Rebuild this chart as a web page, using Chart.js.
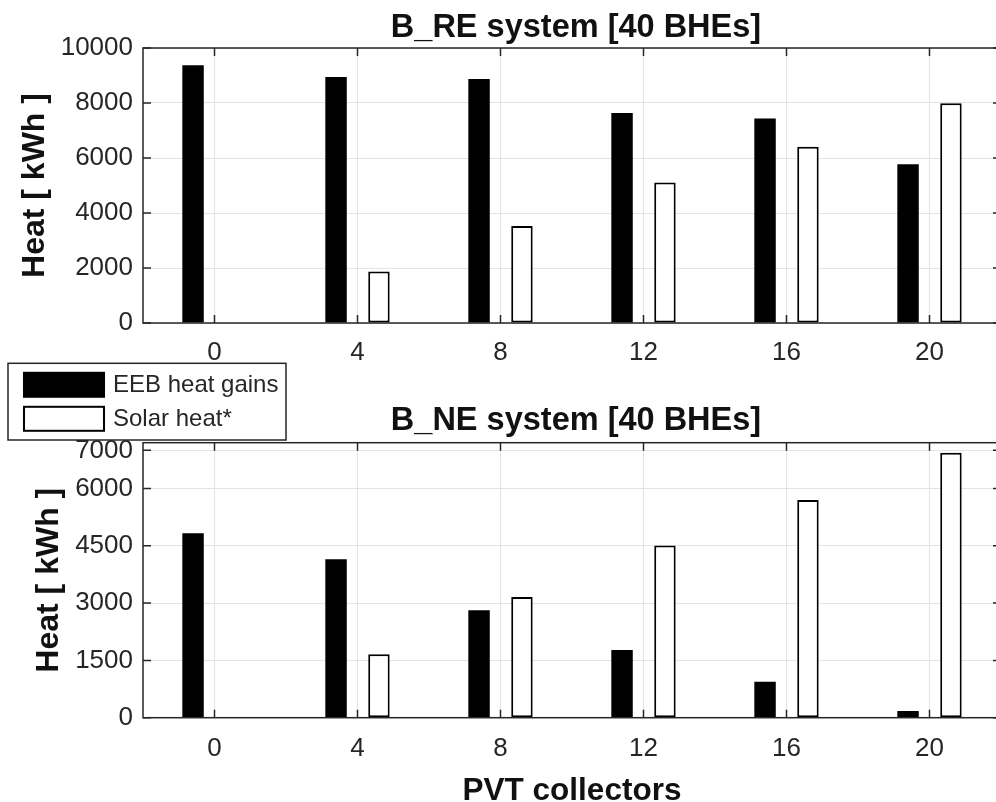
<!DOCTYPE html>
<html>
<head>
<meta charset="utf-8">
<script src="https://cdn.jsdelivr.net/npm/chart.js@4/dist/chart.umd.min.js"></script>
<style>
  html, body { margin: 0; padding: 0; background: #fff; width: 996px; height: 802px; overflow: hidden; position: relative; }
  canvas { position: absolute; left: 0; }
  #reChart { top: 0; }
  #neChart { top: 350px; }
</style>
</head>
<body>
<canvas id="reChart" width="1010" height="370"></canvas>
<canvas id="neChart" width="1010" height="470"></canvas>
<script>
// Number of PVT collectors (x categories)
const pvtCollectors = ['0', '4', '8', '12', '16', '20'];

// B_RE system [40 BHEs], heat in kWh
const reEebGains = [9370, 8950, 8870, 7640, 7440, 5770];
const reSolarHeat = [0, 1870, 3530, 5110, 6410, 7990];
const reTicks = [0, 2000, 4000, 6000, 8000, 10000];

// B_NE system [40 BHEs], heat in kWh
const neEebGains = [4830, 4150, 2810, 1770, 940, 175];
const neSolarHeat = [0, 1660, 3160, 4510, 5700, 6940];
const neTicks = [0, 1500, 3000, 4500, 6000, 7000];

const seriesNames = ['EEB heat gains', 'Solar heat*'];

const FONT = '"Liberation Sans", Arial, Helvetica, sans-serif';
const AXIS_COLOR = '#262626';
const TEXT_COLOR = '#111';
const GRID_COLOR = '#e4e4e4';

// Panel title centred over the plot area
const panelTitle = {
  id: 'panelTitle',
  afterDraw(chart) {
    const o = chart.options.plugins.panelTitle;
    if (!o || !o.text) return;
    const { ctx, chartArea: a } = chart;
    ctx.save();
    ctx.fillStyle = TEXT_COLOR;
    ctx.font = 'bold 32.5px ' + FONT;
    ctx.textAlign = 'center';
    ctx.textBaseline = 'alphabetic';
    ctx.fillText(o.text, (a.left + a.right) / 2 + 4, o.baseline);
    ctx.restore();
  }
};

// Box around the plot area with inward tick marks on all four sides
const frameTicks = {
  id: 'frameTicks',
  afterDatasetsDraw(chart) {
    const { ctx, chartArea: a, scales: { x, y } } = chart;
    ctx.save();
    ctx.strokeStyle = AXIS_COLOR;
    ctx.lineWidth = 1.5;
    ctx.beginPath();
    x.ticks.forEach((t, i) => {
      const px = x.getPixelForTick(i);
      ctx.moveTo(px, a.bottom); ctx.lineTo(px, a.bottom - 8);
      ctx.moveTo(px, a.top); ctx.lineTo(px, a.top + 8);
    });
    y.ticks.forEach(t => {
      const py = y.getPixelForValue(t.value);
      ctx.moveTo(a.left, py); ctx.lineTo(a.left + 8, py);
      ctx.moveTo(a.right, py); ctx.lineTo(a.right - 8, py);
    });
    ctx.stroke();
    ctx.strokeRect(a.left, a.top, a.right - a.left, a.bottom - a.top);
    ctx.restore();
  }
};

// Boxed legend in the upper-left corner of the lower panel
const boxLegend = {
  id: 'boxLegend',
  afterDraw(chart) {
    const o = chart.options.plugins.boxLegend;
    if (!o) return;
    const { ctx } = chart;
    ctx.save();
    ctx.fillStyle = '#fff';
    ctx.fillRect(o.x, o.y, o.w, o.h);
    ctx.strokeStyle = AXIS_COLOR;
    ctx.lineWidth = 1.5;
    ctx.strokeRect(o.x, o.y, o.w, o.h);
    chart.data.datasets.forEach((ds, i) => {
      const sy = o.y + 9.5 + i * 34;
      ctx.fillStyle = ds.backgroundColor;
      ctx.fillRect(o.x + 16, sy, 80, 24);
      ctx.strokeStyle = '#000';
      ctx.lineWidth = 2;
      ctx.strokeRect(o.x + 16, sy, 80, 24);
      ctx.fillStyle = AXIS_COLOR;
      ctx.font = '24px ' + FONT;
      ctx.textBaseline = 'middle';
      ctx.textAlign = 'left';
      ctx.fillText(ds.label, o.x + 105, sy + 13);
    });
    ctx.restore();
  }
};

function buildChart(canvasId, cfg) {
  return new Chart(document.getElementById(canvasId), {
    type: 'bar',
    data: {
      labels: pvtCollectors,
      datasets: [
        { label: seriesNames[0], data: cfg.eeb, backgroundColor: '#000', borderColor: '#000', borderWidth: 0 },
        { label: seriesNames[1], data: cfg.solar, backgroundColor: '#fff', borderColor: '#000', borderWidth: 2, borderSkipped: false }
      ]
    },
    options: {
      responsive: false,
      animation: false,
      devicePixelRatio: 1,
      layout: { padding: { top: cfg.plotTop, left: 0, right: 9, bottom: 0 } },
      datasets: { bar: { categoryPercentage: 0.6, barPercentage: 0.5 } },
      plugins: {
        legend: { display: false },
        tooltip: { enabled: false },
        title: { display: false },
        panelTitle: { text: cfg.title, baseline: cfg.titleBaseline },
        boxLegend: cfg.legend || false
      },
      scales: {
        x: {
          type: 'category',
          offset: true,
          grid: { color: GRID_COLOR, offset: false, drawTicks: false },
          border: { display: false },
          ticks: { color: AXIS_COLOR, font: { family: FONT, size: 26 }, padding: cfg.xTickPad, maxRotation: 0 },
          title: cfg.xTitle ? {
            display: true, text: cfg.xTitle, color: TEXT_COLOR,
            font: { family: FONT, size: 31.5, weight: 'bold' },
            padding: { top: cfg.xTitlePad, bottom: cfg.xTitlePad }
          } : { display: false },
          afterFit: s => { s.height = cfg.xHeight; }
        },
        y: {
          type: 'linear',
          min: 0,
          max: cfg.yMax,
          afterBuildTicks: s => { s.ticks = cfg.yTicks.map(v => ({ value: v })); },
          grid: { color: GRID_COLOR, drawTicks: false },
          border: { display: false },
          ticks: { color: AXIS_COLOR, font: { family: FONT, size: 26 }, padding: 10, callback: v => String(v) },
          title: {
            display: true, text: 'Heat [ kWh ]', color: TEXT_COLOR,
            font: { family: FONT, size: 32, weight: 'bold' },
            padding: { top: cfg.yTitlePad, bottom: cfg.yTitlePad }
          },
          afterFit: s => { s.width = 143; }
        }
      }
    },
    plugins: [frameTicks, panelTitle, boxLegend]
  });
}

buildChart('reChart', {
  title: 'B_RE system [40 BHEs]',
  titleBaseline: 37,
  plotTop: 48,
  eeb: reEebGains, solar: reSolarHeat,
  yTicks: reTicks, yMax: 10000,
  xHeight: 47, xTickPad: 14,
  yTitlePad: 15.5
});

buildChart('neChart', {
  title: 'B_NE system [40 BHEs]',
  titleBaseline: 80,
  plotTop: 92.7,
  eeb: neEebGains, solar: neSolarHeat,
  yTicks: neTicks, yMax: 7200,
  xHeight: 102.3, xTickPad: 16,
  xTitle: 'PVT collectors', xTitlePad: 9.6,
  yTitlePad: 29.5,
  legend: { x: 8, y: 13.3, w: 278, h: 76.7 }
});
</script>
</body>
</html>
